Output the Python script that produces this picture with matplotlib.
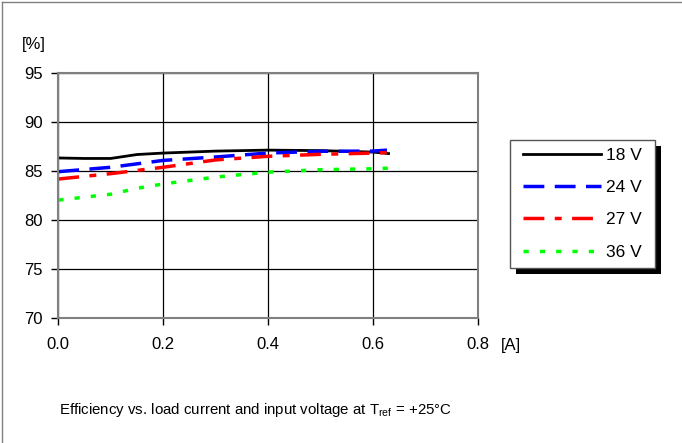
import matplotlib
matplotlib.use("Agg")
import matplotlib.pyplot as plt
from matplotlib.lines import Line2D
from matplotlib.patches import Rectangle

plt.rcParams['font.family'] = ['Liberation Sans', 'DejaVu Sans']
plt.rcParams['mathtext.fontset'] = 'custom'
plt.rcParams['mathtext.rm'] = 'Liberation Sans'

# load current [A]
x_18 = [0.0, 0.05, 0.1, 0.15, 0.2, 0.3, 0.4, 0.5, 0.6, 0.63]
eff_18 = [86.3, 86.25, 86.25, 86.65, 86.8, 87.0, 87.1, 87.05, 86.9, 86.75]

x_24 = [0.0, 0.1, 0.2, 0.3, 0.4, 0.5, 0.6, 0.627]
eff_24 = [84.9, 85.35, 86.05, 86.4, 86.8, 86.98, 87.0, 87.1]

x_27 = [0.0, 0.1, 0.2, 0.3, 0.4, 0.5, 0.6, 0.627]
eff_27 = [84.15, 84.7, 85.35, 86.1, 86.47, 86.67, 86.8, 86.85]

x_36 = [0.0, 0.1, 0.15, 0.2, 0.3, 0.4, 0.5, 0.6, 0.65]
eff_36 = [82.0, 82.6, 83.2, 83.65, 84.35, 84.85, 85.1, 85.2, 85.3]

labels = ['18 V', '24 V', '27 V', '36 V']

fig = plt.figure(figsize=(6.82, 4.43), dpi=100)
ax = fig.add_axes([0.0855, 0.2828, 0.6149, 0.5531])

l1, = ax.plot(x_18, eff_18, color='black', lw=2, label=labels[0])
l2, = ax.plot(x_24, eff_24, color='#0000ff', lw=2.5, dashes=(6, 3), label=labels[1])
l3, = ax.plot(x_27, eff_27, color='#ff0000', lw=2.5, dashes=(6, 3, 2, 3), label=labels[2])
l4, = ax.plot(x_36, eff_36, color='#00ff00', lw=2.5, dashes=(1.5, 3.2), label=labels[3])

ax.set_xlim(0, 0.8)
ax.set_ylim(70, 95)
ax.set_xticks([0.0, 0.2, 0.4, 0.6, 0.8])
ax.set_xticklabels(['0.0', '0.2', '0.4', '0.6', '0.8'])
ax.set_yticks([70, 75, 80, 85, 90, 95])
ax.grid(True, color='black', lw=0.9)
for s in ax.spines.values():
    s.set_color('#808080')
    s.set_linewidth(1.5)
ax.tick_params(axis='x', direction='out', length=5, width=1, pad=9, labelsize=12)
ax.tick_params(axis='y', direction='out', length=5, width=1, pad=6, labelsize=12)

fig.text(0.032, 0.900, '[%]', fontsize=12, ha='left', va='center')
fig.text(0.735, 0.221, '[A]', fontsize=12, ha='left', va='center')
fig.text(0.087, 0.074, r'Efficiency vs. load current and input voltage at T$_{\rm ref}$ = +25°C',
         fontsize=10.8, ha='left', va='center')

# legend box with black shadow
fig.patches.append(Rectangle((516 / 682, 1 - 274 / 443), 145 / 682, 128 / 443,
                             transform=fig.transFigure, facecolor='black', edgecolor='none', zorder=1))
fig.patches.append(Rectangle((510 / 682, 1 - 268 / 443), 145 / 682, 128 / 443,
                             transform=fig.transFigure, facecolor='white', edgecolor='#555555',
                             lw=1, zorder=2))
leg = fig.legend(handles=[l1, l2, l3, l4], loc='upper left', bbox_to_anchor=(516 / 682, 1 - 141 / 443),
                 frameon=False, fontsize=12.5,
                 handlelength=4.5, handletextpad=0.3, labelspacing=0.98,
                 borderaxespad=0, borderpad=0.4)
leg.set_zorder(3)

# figure border (top and left)
fig.add_artist(Line2D([2 / 682, 1], [1 - 2 / 443, 1 - 2 / 443], transform=fig.transFigure,
                      color='#808080', lw=1))
fig.add_artist(Line2D([2 / 682, 2 / 682], [0, 1 - 2 / 443], transform=fig.transFigure,
                      color='#808080', lw=1))

fig.savefig('out.png', dpi=100)
